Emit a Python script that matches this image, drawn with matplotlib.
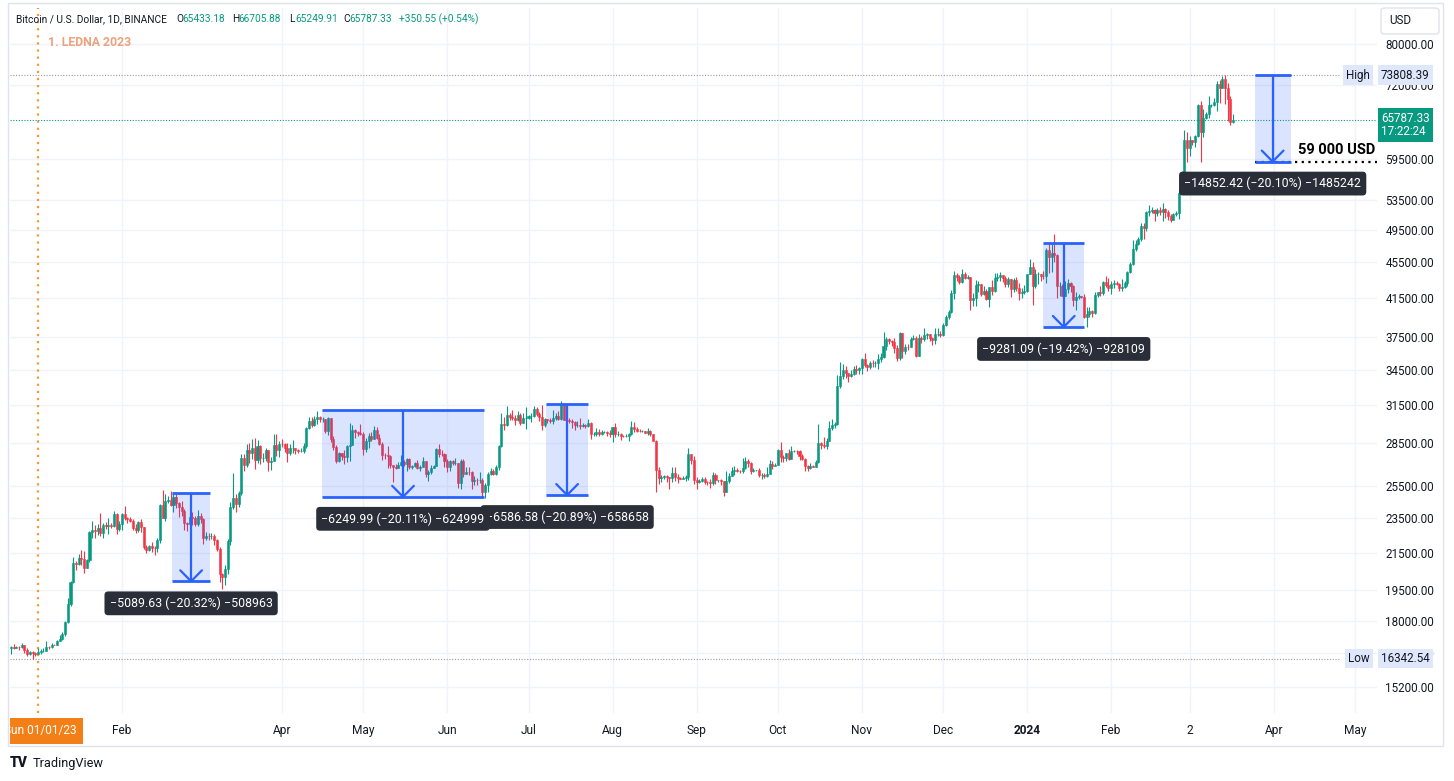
import numpy as np
import matplotlib.pyplot as plt
from matplotlib.patches import Rectangle, FancyBboxPatch
from matplotlib.transforms import blended_transform_factory

plt.rcParams['font.family'] = ['Roboto', 'DejaVu Sans']

W, H = 1454, 781

# daily BTC/USD candles, 22 Dec 2022 .. 17 Mar 2024 (day 0 = 1 Jan 2023)
first_day = -10
first_open = 16820
closes = [
    16830, 16780, 16840, 16830, 16920, 16705, 16545, 16635, 16600, 16540,
    16615, 16670, 16675, 16850, 16830, 16950, 16940, 17120, 17180, 17440, 17945, 18845, 19930, 20950, 20870, 21185, 21130, 20675, 21070, 22670, 22780, 22710, 22915, 22635, 23060, 23010, 23075, 23030, 23745, 22825, 23125,
    23730, 23490, 23430, 23325, 22930, 22760, 23240, 22965, 21795, 21625, 21860, 21780, 21770, 22200, 24330, 23520, 24570, 24630, 24280, 24840, 24440, 24190, 23950, 23190, 23150, 23550, 23490, 23140,
    23630, 23470, 22350, 22430, 22410, 22410, 22190, 21700, 20360, 20190, 20630, 22160, 24200, 24750, 24380, 25050, 27420, 26970, 28040, 27780, 28170, 27310, 28330, 27480, 27480, 27990, 27140, 27270, 28350, 28030, 28480,
    28450, 28200, 27800, 28170, 28180, 28050, 27930, 27950, 28330, 29650, 30240, 29890, 30390, 30490, 30320, 30320, 29440, 30400, 28820, 28250, 27260, 27820, 27590, 27510, 28300, 28420, 29470, 29340, 29250, 29230,
    28070, 28670, 29030, 28850, 29530, 28900, 28430, 27660, 27630, 27620, 26990, 26800, 26780, 26930, 27170, 27030, 27400, 26830, 26890, 27100, 26750, 26850, 27220, 26330, 26470, 26720, 26870, 28070, 27740, 27700, 27220,
    26820, 27250, 27070, 27120, 25730, 27230, 26340, 26500, 26480, 25850, 25940, 25900, 25900, 25120, 25580, 26330, 26510, 26340, 26840, 28310, 30000, 29890, 30690, 30530, 30470, 30270, 30700, 30080, 30450, 30470,
    30590, 30620, 31160, 30770, 30500, 29900, 30350, 30290, 30170, 30410, 30620, 30390, 31450, 30310, 30290, 30230, 30140, 29860, 29910, 29800, 29910, 29800, 30080, 29180, 29230, 29350, 29210, 29320, 29350, 29280, 29230,
    29700, 29170, 29180, 29080, 29050, 29050, 29180, 29770, 29560, 29430, 29400, 29420, 29280, 29410, 29170, 28700, 26620, 26050, 26100, 26190, 26120, 26040, 26430, 26160, 26060, 26010, 26090, 26110, 27720, 27300, 25940,
    25800, 25870, 25970, 25820, 25780, 25750, 26240, 25900, 25900, 25840, 25160, 25840, 26230, 26530, 26610, 26570, 26530, 26770, 27210, 27130, 26570, 26580, 26580, 26250, 26300, 26220, 26350, 27030, 26910, 26970,
    27990, 27500, 27430, 27790, 27410, 27930, 27950, 27920, 27590, 27390, 26870, 26760, 26860, 26850, 27150, 28500, 28400, 28320, 28710, 29680, 29910, 29990, 33090, 33900, 34500, 34150, 33910, 34090, 34530, 34500, 34640,
    35420, 34940, 34730, 35080, 35050, 35050, 35420, 35620, 36700, 37320, 37140, 37060, 36490, 35550, 37880, 36160, 36600, 36570, 37360, 37450, 35760, 37420, 37290, 37720, 37800, 37450, 37240, 37820, 37850, 37710,
    38690, 39470, 39980, 41990, 44080, 43770, 43290, 44170, 43720, 43790, 41240, 41450, 42890, 43020, 41940, 42260, 41370, 42660, 42260, 43650, 43860, 43990, 43740, 43020, 43580, 42520, 43440, 42580, 42070, 42140, 42280,
    44180, 44950, 42850, 44150, 44160, 43970, 43930, 46970, 46120, 46660, 46340, 42780, 42840, 41730, 42510, 43140, 42770, 41260, 41620, 41670, 41560, 39510, 39850, 40080, 39930, 41800, 42120, 42030, 43300, 42940, 42580,
    43080, 43190, 43010, 42580, 42700, 43090, 44340, 45290, 47130, 47750, 48290, 49960, 49700, 51800, 51910, 52120, 51640, 52140, 51780, 52260, 51850, 51300, 50740, 51570, 51730, 54480, 57040, 62430, 61130,
    62390, 62030, 63130, 68250, 63720, 66070, 66810, 68260, 68310, 68950, 72080, 71430, 73060, 71380, 69460, 65433.18, 65787.33,
]
highs = [
    16870, 16960, 16870, 16865, 17000, 16950, 16780, 16660, 16650, 16640,
    16780, 16760, 16800, 17090, 16880, 17000, 16980, 17170, 17390, 17490, 17990, 19100, 19970, 21260, 21050, 21440, 21650, 21600, 21150, 22750, 23300, 23080, 23160, 23800, 23220, 23290, 23500, 23180, 23960, 23820, 23310,
    23810, 24250, 23580, 23580, 23440, 23160, 23350, 23450, 22990, 21940, 21910, 22090, 21890, 22310, 24380, 25250, 25020, 24880, 25190, 25120, 25020, 24480, 24580, 24080, 23240, 23690, 23880, 23600,
    23970, 23790, 23480, 22690, 22610, 22600, 22550, 22270, 21820, 20370, 20820, 22260, 24500, 26390, 25000, 25230, 27760, 27730, 28470, 28530, 28800, 28900, 28760, 28400, 27790, 28200, 28040, 27500, 29190, 29170, 28660,
    28800, 28530, 28500, 28440, 28770, 28190, 28110, 28180, 28530, 29770, 30550, 30490, 30610, 31000, 30620, 30550, 30320, 30490, 30410, 29080, 28370, 27880, 27820, 28000, 28400, 30020, 29890, 29600, 29450, 29950,
    29330, 28880, 29270, 29380, 29840, 29720, 29170, 28640, 27830, 28330, 27650, 26960, 27060, 27200, 27670, 27280, 27480, 27480, 26990, 27160, 27280, 26930, 27500, 27220, 26640, 26930, 26980, 28200, 28450, 28040, 27830,
    27350, 27300, 27320, 27450, 27130, 27350, 27400, 26800, 26790, 26530, 26210, 26090, 26440, 26080, 25750, 26470, 26770, 26700, 26980, 28400, 30800, 30500, 31430, 30800, 31050, 30660, 31010, 30830, 30830, 31280,
    30650, 30800, 31380, 31330, 30880, 31500, 30450, 30390, 30450, 31050, 30810, 30990, 31810, 31640, 30410, 30440, 30340, 30230, 30190, 30410, 30050, 29990, 30350, 30100, 29380, 29690, 29580, 29530, 29410, 29450, 29530,
    29740, 30050, 29440, 29310, 29120, 29230, 29250, 30240, 30130, 29710, 29550, 29480, 29460, 29680, 29480, 29230, 28780, 26830, 26300, 26280, 26250, 26140, 26820, 26790, 26320, 26100, 26180, 26250, 28140, 27760, 27580,
    26130, 25980, 26120, 26100, 25860, 26030, 26440, 26430, 25950, 26000, 25880, 26550, 26400, 26830, 26890, 26780, 26620, 27430, 27490, 27390, 27160, 26740, 26640, 26740, 26420, 26390, 26830, 27300, 27220, 27090,
    28060, 28580, 27670, 27830, 28120, 28300, 28020, 28000, 27990, 27730, 27480, 26940, 27100, 26960, 27290, 30000, 28620, 28980, 28890, 30200, 30350, 30130, 34000, 35200, 35000, 34820, 34230, 34490, 34800, 34860, 34720,
    35580, 35980, 34950, 35270, 35380, 35280, 35890, 35980, 37970, 37520, 37400, 37260, 37420, 36750, 37990, 37930, 36850, 36850, 37500, 37760, 37640, 37860, 37650, 38420, 37890, 37830, 37570, 38380, 38450, 38150,
    38950, 39700, 40200, 42420, 44480, 44300, 44040, 44700, 44360, 44050, 43800, 41990, 43430, 43420, 43080, 42760, 42440, 42750, 43500, 44300, 44240, 44370, 44020, 43950, 43800, 43630, 43680, 43800, 43110, 42600, 42900,
    44190, 45900, 45500, 44770, 44350, 44200, 44490, 47250, 47900, 47690, 48970, 46500, 43250, 43080, 43390, 43580, 43200, 42930, 42200, 41880, 41690, 41880, 40500, 40560, 40280, 42200, 42200, 42840, 43320, 43880, 43740,
    43420, 43490, 43380, 43120, 43540, 43400, 44500, 45600, 48200, 48150, 48590, 50330, 50360, 52000, 52820, 52570, 52200, 52350, 52490, 52980, 52380, 52040, 51550, 51700, 51950, 54900, 57590, 64000, 63680,
    63110, 62430, 63230, 68430, 69000, 67600, 67150, 69960, 68530, 69650, 72800, 72950, 73650, 73808.39, 72350, 70000, 66705.88,
]
lows = [
    16560, 16760, 16790, 16700, 16810, 16590, 16470, 16500, 16342.54, 16470,
    16520, 16550, 16610, 16660, 16750, 16790, 16910, 16910, 17100, 17150, 17320, 17900, 18720, 19880, 20550, 20800, 20820, 20410, 20660, 20990, 22320, 22300, 22480, 22450, 22300, 22850, 22550, 22880, 22980, 22550, 22720,
    22760, 23360, 23230, 23270, 22760, 22630, 22690, 22680, 21690, 21450, 21610, 21530, 21350, 21540, 22050, 23500, 23350, 24440, 24220, 23860, 24150, 23580, 23640, 22780, 22720, 23080, 23110, 23030,
    23020, 23210, 22000, 22190, 22210, 22270, 21940, 21580, 19900, 19550, 19750, 20350, 21920, 24040, 23850, 24200, 24930, 26570, 26840, 27120, 27360, 26650, 27130, 27020, 27160, 27240, 26550, 26630, 27210, 27620, 27550,
    28250, 27880, 27200, 27670, 27820, 27730, 27780, 27870, 27810, 28150, 29600, 29710, 29820, 30000, 30120, 30140, 29270, 29100, 28600, 28010, 27130, 27150, 27330, 27000, 27200, 27250, 28370, 28890, 29080, 29100,
    27690, 27870, 28130, 28680, 28810, 28800, 28380, 27320, 27350, 26780, 26740, 25810, 26690, 26780, 26880, 26870, 26550, 26650, 26680, 26850, 26660, 26540, 26820, 26110, 25870, 26340, 26720, 26860, 27530, 27560, 26840,
    26500, 26570, 26930, 26950, 25390, 25350, 26120, 26310, 26280, 25360, 25600, 25630, 25720, 24820, 24760, 25170, 26270, 26250, 26250, 26640, 28260, 29530, 29800, 30250, 30270, 29920, 30180, 29860, 30050, 29600,
    30330, 30160, 30550, 30630, 30200, 29500, 29710, 30040, 30050, 29950, 30310, 30250, 30250, 30260, 30250, 30060, 29660, 29520, 29760, 29550, 29750, 29640, 29730, 28860, 29060, 29090, 29080, 29130, 29250, 29030, 28990,
    28580, 28990, 29080, 28750, 28950, 28970, 28700, 29140, 29350, 29320, 29330, 29360, 29250, 29100, 29060, 28700, 25170, 25650, 25800, 25970, 25800, 25350, 25800, 25860, 25760, 25970, 25980, 25880, 25920, 27020, 25660,
    25330, 25720, 25790, 25660, 25580, 25380, 25600, 25650, 25800, 25580, 24900, 25140, 25760, 26200, 26240, 26470, 26400, 26380, 26650, 26800, 26360, 26480, 26520, 26140, 26000, 26080, 26140, 26320, 26660, 26880,
    26960, 27160, 27160, 27220, 27280, 27360, 27850, 27700, 27300, 27300, 26560, 26540, 26660, 26800, 26800, 27120, 28120, 28140, 28100, 28660, 29480, 29660, 29860, 32850, 33700, 33710, 33400, 33860, 34020, 34080, 34100,
    34100, 34710, 34340, 34580, 34730, 34720, 34530, 35130, 35540, 36320, 36860, 36700, 35990, 35240, 35360, 35520, 35870, 36270, 36520, 37250, 35630, 35700, 36900, 37170, 37330, 37160, 36750, 36880, 37600, 37500,
    37620, 38650, 39300, 39960, 41390, 43350, 43080, 43170, 43580, 43580, 40220, 40700, 40650, 42100, 41680, 41780, 41250, 40530, 41800, 42180, 43310, 43420, 43300, 42750, 42750, 41650, 42100, 42300, 41300, 41520, 41970,
    42170, 44180, 40750, 42630, 43070, 43400, 43630, 43160, 44300, 44350, 45600, 41500, 41720, 41700, 41720, 42050, 42200, 40680, 40280, 41400, 41450, 39430, 38550, 39480, 39500, 39830, 41640, 41700, 41800, 42680, 42250,
    41880, 42570, 42880, 42250, 42260, 42570, 42780, 44300, 45200, 46850, 47550, 48140, 48300, 49300, 51330, 51640, 50600, 51280, 51370, 50620, 50980, 50800, 50500, 50940, 51280, 50900, 54450, 56700, 58950,
    59950, 61660, 61300, 62990, 59005, 62900, 65950, 66150, 67920, 68200, 67200, 68620, 71330, 68500, 65600, 64900, 65249.91,
]

price_ticks = [15200, 16600, 18000, 19500, 21500, 23500, 25500, 28500, 31500, 34500,
               37500, 41500, 45500, 49500, 53500, 59500, 72000, 80000]
month_days = [31, 90, 120, 151, 181, 212, 243, 273, 304, 334, 365, 396, 425, 456, 486]
month_labels = ['Feb', 'Apr', 'May', 'Jun', 'Jul', 'Aug', 'Sep', 'Oct', 'Nov', 'Dec',
                '2024', 'Feb', '2', 'Apr', 'May']

# price range measurements drawn on the chart
meas_start = [49.5, 104.8, 187.5, 371.0, 449.0]
meas_end = [63.5, 164.6, 203.0, 386.0, 462.2]
meas_top = [25047.4, 31079.0, 31529.5, 47791.0, 73893.0]
meas_bottom = [19957.8, 24829.0, 24942.9, 38509.9, 59040.6]
meas_text = ['\u22125089.63 (\u221220.32%) \u2212508963',
             '\u22126249.99 (\u221220.11%) \u2212624999',
             '\u22126586.58 (\u221220.89%) \u2212658658',
             '\u22129281.09 (\u221219.42%) \u2212928109',
             '\u221214852.42 (\u221220.10%) \u22121485242']

high_price = 73808.39
low_price = 16342.54
last_price = 65787.33
target_price = 59000

UP = '#089981'
DOWN = '#f23645'
BLUE = '#2962ff'
TXT = '#131722'
GRID = '#f0f3fa'

assert len(closes) == len(highs) == len(lows)

fig = plt.figure(figsize=(W / 100, H / 100), dpi=100)


def fx(x):
    return x / W


def fy(y):
    return 1 - y / H


x0, x1 = 10, 1377
ax = fig.add_axes([fx(x0), fy(713), fx(x1) - fx(x0), fy(8) - fy(713)])
xlim = (-10.33, 494.1)
ax.set_xlim(*xlim)
ax.set_yscale('log')
ax.set_ylim(14202, 87800)
for s in ax.spines.values():
    s.set_visible(False)

ax.set_yticks(price_ticks)
ax.set_yticklabels(['%.2f' % p for p in price_ticks])
ax.yaxis.set_minor_locator(plt.NullLocator())
ax.yaxis.tick_right()
ax.tick_params(axis='y', length=0, pad=6, labelsize=8.4, labelcolor=TXT)
ax.set_xticks([])
for p in price_ticks:
    ax.axhline(p, color=GRID, lw=1, zorder=0)
for d in month_days:
    ax.axvline(d, color=GRID, lw=1, zorder=0)

# candles
c = np.array(closes, dtype=float)
o = np.concatenate([[first_open], c[:-1]])
h = np.maximum(np.array(highs, dtype=float), np.maximum(o, c))
l = np.minimum(np.array(lows, dtype=float), np.minimum(o, c))
days = np.arange(first_day, first_day + len(c))
cols = np.where(c >= o, UP, DOWN)
ax.vlines(days, l, h, colors=cols, lw=0.8, zorder=3)
ax.bar(days, np.abs(c - o), bottom=np.minimum(o, c), width=0.75, color=cols,
       edgecolor=cols, lw=0.4, zorder=4)

# 1 Jan 2023 marker
ax.axvline(0, color='#f59a36', lw=1.6, ls=(0, (1, 2.2)), zorder=2)
fig.text(fx(48), fy(43), '1. LEDNA 2023', color='#eca27c', fontsize=8.8,
         fontweight='bold', va='center', ha='left')

# high / low / last price lines
ax.hlines([high_price, low_price], xlim[0], 480.5, colors='#9598a1', lw=0.8,
          linestyles=(0, (1, 1.5)), zorder=2)
ax.axhline(last_price, color=UP, lw=0.8, ls=(0, (1, 1.5)), zorder=2)
ax.hlines(target_price, 449, xlim[1], colors='black', lw=1.6,
          linestyles=(0, (1, 2)), zorder=5)

# measurement boxes (earlier labels drawn on top of later ones)
dx_head = 4.0
fy_head = np.exp(11 / 387.0)
for i, (s, e, t, b, txt) in enumerate(zip(meas_start, meas_end, meas_top,
                                          meas_bottom, meas_text)):
    ax.add_patch(Rectangle((s, b), e - s, t - b, facecolor=BLUE, alpha=0.17,
                           edgecolor='none', zorder=5))
    m = (s + e) / 2
    ax.hlines([t, b], s, e, colors=BLUE, lw=2, zorder=6)
    ax.vlines(m, b, t, colors=BLUE, lw=1.6, zorder=6)
    ax.plot([m - dx_head, m, m + dx_head], [b * fy_head, b, b * fy_head],
            color=BLUE, lw=1.6, zorder=6, solid_capstyle='round')
    ax.annotate(txt, (m, b), xytext=(0, -22), textcoords='offset pixels',
                ha='center', va='center', color='white', fontsize=8.9,
                zorder=8.5 - 0.1 * i,
                bbox=dict(boxstyle='round,pad=0.42,rounding_size=0.3',
                          fc='#2a2e39', ec='none'))

fig.text(fx(1375), fy(150), '59 000 USD', ha='right', va='center',
         fontsize=10.5, fontweight='bold', color='black')

# price scale tags
tr = blended_transform_factory(fig.transFigure, ax.transData)
tag_box = dict(boxstyle='square,pad=0.28', fc='#dfe7fb', ec='none')
ax.text(fx(1381), high_price, '%.2f' % high_price, transform=tr, ha='left',
        va='center', fontsize=8.4, color=TXT, bbox=tag_box, clip_on=False, zorder=9)
ax.text(fx(1381), low_price, '%.2f' % low_price, transform=tr, ha='left',
        va='center', fontsize=8.4, color=TXT, bbox=tag_box, clip_on=False, zorder=9)
ax.text(fx(1346), high_price, 'High', transform=tr, ha='left', va='center',
        fontsize=8.4, color=TXT, bbox=tag_box, clip_on=False, zorder=9)
ax.text(fx(1348), low_price, 'Low', transform=tr, ha='left', va='center',
        fontsize=8.4, color=TXT, bbox=tag_box, clip_on=False, zorder=9)
ax.annotate('%.2f\n17:22:24' % last_price, (fx(1381), last_price), xycoords=tr,
            xytext=(0, 8), textcoords='offset pixels', ha='left', va='top',
            fontsize=8.4, color='white', linespacing=1.05, zorder=9,
            annotation_clip=False,
            bbox=dict(boxstyle='square,pad=0.3', fc=UP, ec='none'))

# time scale row
tax = fig.add_axes([fx(x0), fy(745), fx(x1) - fx(x0), fy(713) - fy(745)])
tax.set_xlim(*xlim)
tax.set_ylim(0, 1)
tax.axis('off')
for d, lab in zip(month_days, month_labels):
    tax.text(d, 0.45, lab, ha='center', va='center', fontsize=8.6, color=TXT,
             fontweight='bold' if lab == '2024' else 'normal')
tax.text(0.7, 0.45, 'Sun 01/01/23', ha='center', va='center', fontsize=8.6,
         color='white', clip_on=True,
         bbox=dict(boxstyle='square,pad=0.55', fc='#f57f17', ec='none'))

# header
hdr = 7.3
fig.text(fx(16), fy(19), 'Bitcoin / U.S. Dollar, 1D, BINANCE', fontsize=hdr,
         color=TXT, va='center')
for xp, lab, val in [(176, 'O', '65433.18'), (232, 'H', '66705.88'),
                     (289, 'L', '65249.91'), (343, 'C', '65787.33')]:
    fig.text(fx(xp), fy(19), lab, fontsize=hdr, color=TXT, va='center')
    fig.text(fx(xp + 6.5), fy(19), val, fontsize=hdr, color=UP, va='center')
fig.text(fx(399), fy(19), '+350.55 (+0.54%)', fontsize=hdr, color=UP, va='center')

# USD button
fig.add_artist(FancyBboxPatch((fx(1381), fy(34)), fx(58), 26 / H,
                              boxstyle='round,pad=0,rounding_size=0.003',
                              fc='white', ec='#e0e3eb', lw=1,
                              transform=fig.transFigure))
fig.text(fx(1389), fy(21), 'USD', fontsize=8.4, color=TXT, va='center')

# frame
fig.add_artist(Rectangle((fx(8), fy(746)), fx(1443 - 8), (746 - 3) / H,
                         fill=False, ec='#e0e3eb', lw=1, transform=fig.transFigure))

# footer logo
fig.text(fx(10), fy(763), 'TV', fontsize=10, fontweight='black', color=TXT,
         va='center')
fig.text(fx(33), fy(763), 'TradingView', fontsize=9.2, color=TXT, va='center')

fig.savefig('out.png', dpi=100)
